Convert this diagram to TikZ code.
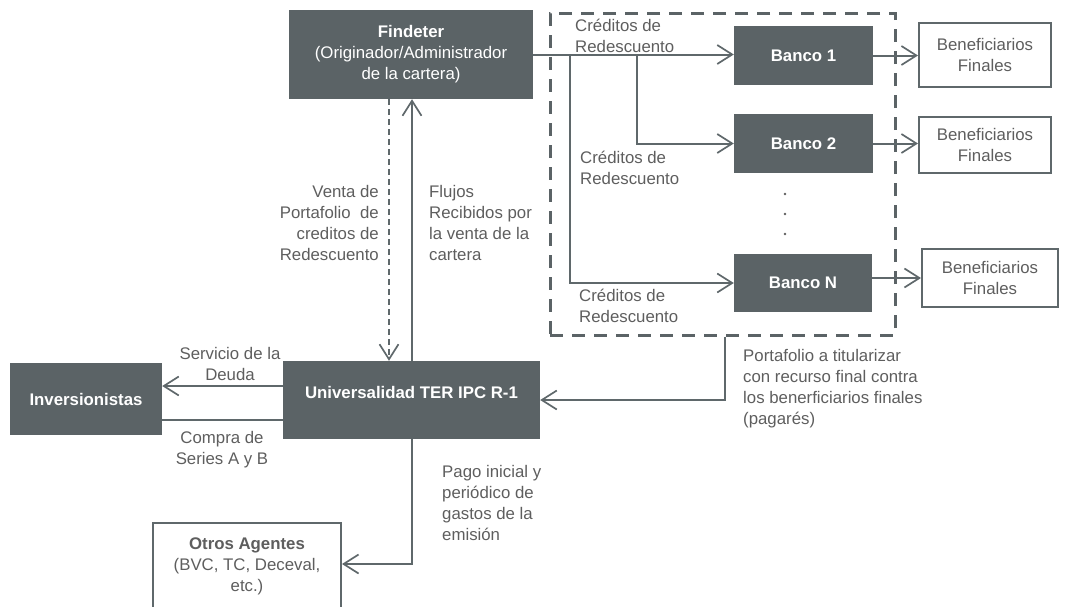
\documentclass[tikz,border=0pt]{standalone}
\usepackage{fontspec}
\setmainfont{Liberation Sans}
\usetikzlibrary{arrows.meta,calc}
\definecolor{boxfill}{HTML}{5B6366}
\definecolor{linec}{HTML}{5F686B}
\definecolor{txt}{HTML}{5E5E5E}
\begin{document}
\begin{tikzpicture}[x=1pt,y=-1pt,
  font=\fontsize{16.8}{21}\selectfont,
  darkbox/.style={fill=boxfill, draw=none, text=white, align=center, inner sep=0pt, font=\fontsize{16.8}{21}\selectfont\bfseries},
  lightbox/.style={draw=linec, line width=2pt, fill=white, text=txt, align=center, inner sep=0pt},
  lbl/.style={text=txt, inner sep=0pt},
  conn/.style={draw=linec, line width=2pt},
  arr/.style={conn, -{Straight Barb[length=15pt,width=19pt,line width=1.7pt]}},
]
\useasboundingbox (0,0) rectangle (1070,606);
\clip (0,0) rectangle (1070,606);

% dashed group
\node[draw=boxfill, line width=3pt, dash pattern=on 13pt off 9pt, minimum width=345pt, minimum height=322pt, inner sep=0pt] (grp) at (722.5,174) {};

% boxes
\node[darkbox, minimum width=244pt, minimum height=89pt] (find) at (411,54.5)
  {Findeter\\\mdseries(Originador/Administrador\\\mdseries de la cartera)};
\node[darkbox, minimum width=139pt, minimum height=59pt] (b1) at (803.5,55.5) {Banco 1};
\node[darkbox, minimum width=139pt, minimum height=59pt] (b2) at (803.5,143.5) {Banco 2};
\node[darkbox, minimum width=138pt, minimum height=58pt] (bn) at (803,283) {Banco N};
\node[lightbox, minimum width=132pt, minimum height=64pt] (bf1) at (985,55) {Beneficiarios\\Finales};
\node[lightbox, minimum width=132pt, minimum height=56pt] (bf2) at (985,145) {Beneficiarios\\Finales};
\node[lightbox, minimum width=136pt, minimum height=58pt] (bfn) at (990,278) {Beneficiarios\\Finales};
\node[darkbox, minimum width=257pt, minimum height=78pt] (univ) at (411.5,400) {};
\node[text=white, inner sep=0pt, font=\fontsize{16.8}{21}\selectfont\bfseries] (univt) at (411.5,392) {Universalidad TER IPC R-1};
\node[darkbox, minimum width=152pt, minimum height=72pt] (inv) at (86,399) {Inversionistas};
\node[lightbox, minimum width=188pt, minimum height=92pt] (otros) at (247,569) {};
\node[text=txt, align=center, inner sep=0pt] (otrost) at (247,566)
  {\textbf{Otros Agentes}\\(BVC, TC, Deceval,\\etc.)};

% dots
\fill[txt] (785,194) circle (1.4);
\fill[txt] (785,214) circle (1.4);
\fill[txt] (785,234) circle (1.4);

% connectors
\coordinate (f1) at (570,54.5);
\coordinate (f2) at (637,54.5);
\draw[arr] (find.east) -- (find.east -| b1.west);
\draw[arr] (f1) |- (bn.west);
\draw[arr] (f2) |- (b2.west);
\draw[arr] (b1.east) -- (b1.east -| bf1.west);
\draw[arr] (b2.east) -- (b2.east -| bf2.west);
\draw[arr] (bn.east |- bfn.west) -- (bfn.west);

\coordinate (dx) at (389,0);
\coordinate (ux) at (412,0);
\draw[arr, dash pattern=on 6pt off 4pt] (find.south -| dx) -- (univ.north -| dx);
\draw[arr] (univ.north -| ux) -- (find.south -| ux);

\coordinate (sy) at (0,386);
\coordinate (cy) at (0,420);
\draw[arr] (univ.west |- sy) -- (inv.east |- sy);
\draw[conn] (inv.east |- cy) -- (univ.west |- cy);

\coordinate (px) at (725,0);
\draw[arr] (grp.south -| px) |- (univ.east);
\coordinate (oy) at (0,564);
\draw[arr] (univ.south -| ux) |- (otros.east |- oy);

% labels
\node[lbl, anchor=west, align=left] (l1) at (575,35.5) {Créditos de\\Redescuento};
\node[lbl, anchor=west, align=left] (l2) at (580,168) {Créditos de\\Redescuento};
\node[lbl, anchor=west, align=left] (l3) at (579,306) {Créditos de\\Redescuento};
\node[lbl, anchor=east, align=right] (lv) at (379,222.5) {Venta de\\Portafolio\ \ de\\creditos de\\Redescuento};
\node[lbl, anchor=west, align=left] (lf) at (429,222.5) {Flujos\\Recibidos por\\la venta de la\\cartera};
\node[lbl, align=center] (ls) at (230,363.5) {Servicio de la\\Deuda};
\node[lbl, align=center] (lc) at (222,449.5) {Compra de\\Series A y B};
\node[lbl, anchor=west, align=left] (lp) at (442,502.5) {Pago inicial y\\periódico de\\gastos de la\\emisión};
\node[lbl, anchor=west, align=left] (lt) at (743,389) {Portafolio a titularizar\\con recurso final contra\\los benerficiarios finales\\(pagarés)};
\end{tikzpicture}
\end{document}
